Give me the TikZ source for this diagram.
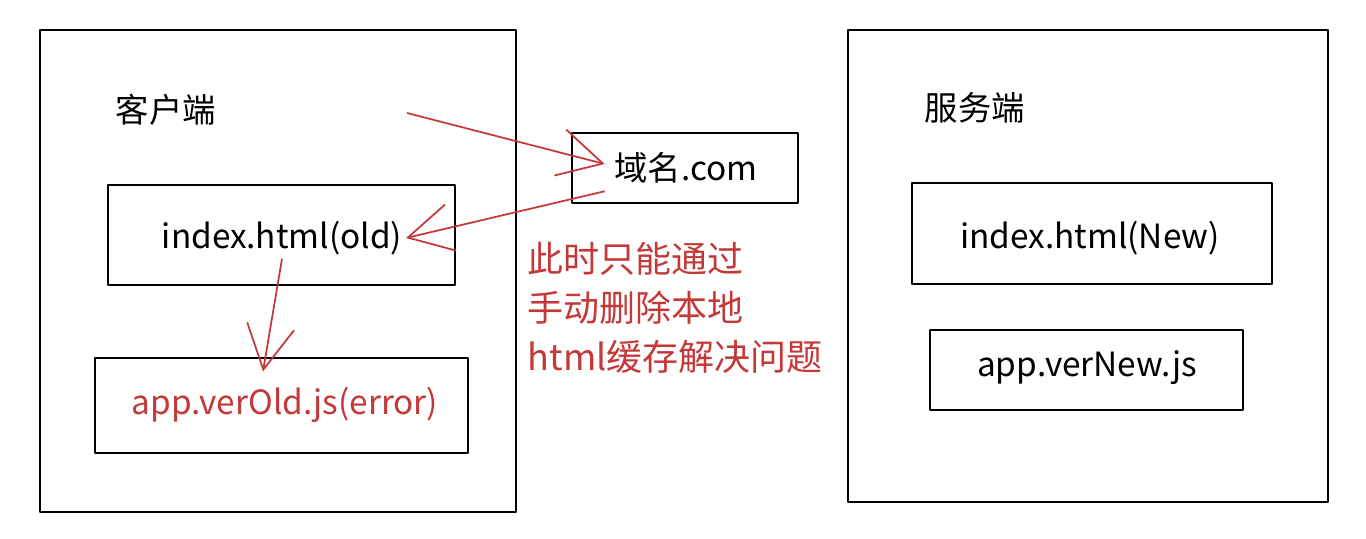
\documentclass[tikz,border=0pt]{standalone}
\usepackage{fontspec}
\setmainfont{Noto Sans CJK SC}
\usetikzlibrary{calc, arrows.meta}
\definecolor{sketchred}{RGB}{196,56,56}

\tikzset{
    frame/.style={line width=1.3pt, line join=round},
    txt/.style={font=\fontsize{19}{24}\selectfont, inner sep=2pt},
    redarrow/.style={draw=sketchred, line width=1pt, -{Straight Barb[length=25pt, width=27pt]}}
}

\begin{document}
\begin{tikzpicture}[x=0.02cm, y=-0.02cm]
        \useasboundingbox (0,0) rectangle (1366,538);

        % big panels
        \draw[frame] (40,30) rectangle (516,512);
        \draw[frame] (848,30) rectangle (1328,502);

        % boxes
        \draw[frame] (108,185) rectangle (455,285);
        \draw[frame] (95,358) rectangle (468,453);
        \draw[frame] (572,133) rectangle (798,203);
        \draw[frame] (912,183) rectangle (1272,284);
        \draw[frame] (930,330) rectangle (1243,410);

        \node[txt] (client) at (166,110) {客户端};
        \node[txt] (server) at (975,108) {服务端};
        \node[txt] (dom) at (686,168) {域名.com};
        \node[txt] (idxold) at (282,238) {index.html(old)};
        \node[txt, text=sketchred] (appold) at (285,405) {app.verOld.js(error)};
        \node[txt] (idxnew) at (1090,238) {index.html(New)};
        \node[txt] (appnew) at (1087,368) {app.verNew.js};
        \node[txt, text=sketchred, anchor=west, align=left, font=\fontsize{20.5}{28}\selectfont]
            (note) at (524,308) {此时只能通过\\手动删除本地\\html缓存解决问题};

        \coordinate (start) at (407,113);

        \draw[redarrow] (start) -- ($(dom.west)+(-6,-4)$);
        \draw[redarrow] ($(dom.south west)+(-6,4)$) -- (idxold.east);
        \draw[redarrow] (idxold.south) -- ($(appold.north)+(-22,-12)$);
    \end{tikzpicture}
\end{document}
